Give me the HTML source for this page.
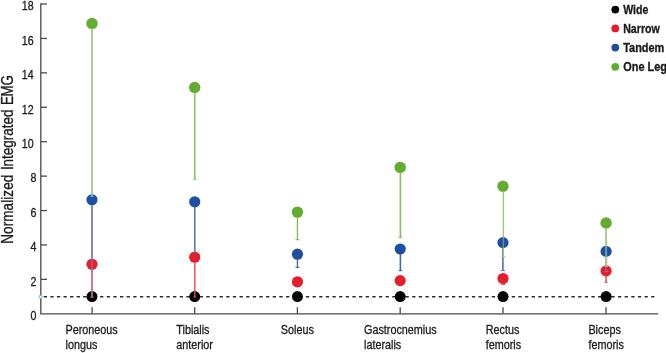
<!DOCTYPE html><html><head><meta charset="utf-8"><title>Normalized Integrated EMG</title>
<style>html,body{margin:0;padding:0;background:#fff;overflow:hidden}svg{display:block}text{font-family:"Liberation Sans",sans-serif;fill:#1a1a1a;stroke:#1a1a1a;stroke-width:0.3px}</style></head><body>
<svg width="666" height="353" viewBox="0 0 666 353">
<rect width="666" height="353" fill="#fff"/>
<g stroke="#4a4a4a" stroke-width="1.3" fill="none">
<path d="M40.8 3.35V313.8H658.1"/>
<path d="M40.8 279.38h6.2"/>
<path d="M40.8 244.96h6.2"/>
<path d="M40.8 210.54h6.2"/>
<path d="M40.8 176.12h6.2"/>
<path d="M40.8 141.70h6.2"/>
<path d="M40.8 107.28h6.2"/>
<path d="M40.8 72.86h6.2"/>
<path d="M40.8 38.44h6.2"/>
<path d="M40.8 4.02h6.2"/>
<path d="M92.1 313.8v-6.6"/>
<path d="M194.7 313.8v-6.6"/>
<path d="M297.4 313.8v-6.6"/>
<path d="M400.2 313.8v-6.6"/>
<path d="M503.0 313.8v-6.6"/>
<path d="M606.0 313.8v-6.6"/>
</g>
<text transform="translate(36.5 320.10) scale(0.82 1)" font-size="13" text-anchor="end">0</text>
<text transform="translate(36.5 285.68) scale(0.82 1)" font-size="13" text-anchor="end">2</text>
<text transform="translate(36.5 251.26) scale(0.82 1)" font-size="13" text-anchor="end">4</text>
<text transform="translate(36.5 216.84) scale(0.82 1)" font-size="13" text-anchor="end">6</text>
<text transform="translate(36.5 182.42) scale(0.82 1)" font-size="13" text-anchor="end">8</text>
<text transform="translate(33.6 148.00) scale(0.82 1)" font-size="13" text-anchor="end">10</text>
<text transform="translate(33.6 113.58) scale(0.82 1)" font-size="13" text-anchor="end">12</text>
<text transform="translate(33.6 79.16) scale(0.82 1)" font-size="13" text-anchor="end">14</text>
<text transform="translate(33.6 44.74) scale(0.82 1)" font-size="13" text-anchor="end">16</text>
<text transform="translate(33.6 10.32) scale(0.82 1)" font-size="13" text-anchor="end">18</text>
<text transform="translate(12.6 243.8) rotate(-90) scale(0.855 1)" font-size="15.8"><tspan x="0" letter-spacing="0.1">Normalized</tspan> <tspan x="86.20" letter-spacing="-0.03">Integrated</tspan> <tspan x="162.22" letter-spacing="-0.35">EMG</tspan></text>
<path d="M43.75 296.7H87" stroke="#2b2b2b" stroke-width="1.4" stroke-dasharray="3.3 3.275" fill="none"/>
<path d="M100.06 296.7H654.45" stroke="#2b2b2b" stroke-width="1.4" stroke-dasharray="3.3 3.34" fill="none"/>
<circle cx="40.6" cy="296.8" r="1.6" fill="#fff" stroke="#6b9bd6" stroke-width="0.8"/>
<circle cx="92.0" cy="296.6" r="5.5" fill="#000"/>
<circle cx="92.0" cy="264.3" r="5.6" fill="#e41f2d"/>
<path d="M92.00 269.30V291.20" stroke="#c98086" stroke-width="2.0" fill="none"/><path d="M92.00 291.20V297.60" stroke="#c98086" stroke-width="2.0" stroke-opacity="0.8" fill="none"/><path d="M90.00 297.20h4" stroke="#c98086" stroke-width="1" stroke-opacity="0.6" fill="none"/>
<circle cx="92.0" cy="199.8" r="5.6" fill="#1f4fa3"/>
<path d="M92.00 204.80V258.90" stroke="#7f8cb6" stroke-width="2.0" fill="none"/><path d="M92.00 258.90V269.70" stroke="#7f8cb6" stroke-width="2.0" stroke-opacity="0.45" fill="none"/><path d="M92.00 269.70V270.20" stroke="#7f8cb6" stroke-width="2.0" fill="none"/><path d="M90.00 269.80h4" stroke="#7f8cb6" stroke-width="1" fill="none"/>
<circle cx="92.0" cy="23.5" r="5.7" fill="#62ad2f"/>
<path d="M92.00 28.50V194.40" stroke="#aacb94" stroke-width="2.0" fill="none"/><path d="M92.00 194.40V196.80" stroke="#aacb94" stroke-width="2.0" stroke-opacity="0.6" fill="none"/><path d="M90.00 196.40h4" stroke="#aacb94" stroke-width="1" stroke-opacity="0.6" fill="none"/>
<circle cx="194.7" cy="296.6" r="5.5" fill="#000"/>
<circle cx="194.7" cy="257.2" r="5.6" fill="#e41f2d"/>
<path d="M194.80 262.20V291.20" stroke="#e75a62" stroke-width="1.6" fill="none"/><path d="M194.80 291.20V297.40" stroke="#e75a62" stroke-width="1.6" stroke-opacity="0.8" fill="none"/><path d="M192.80 297.00h4" stroke="#e75a62" stroke-width="1" stroke-opacity="0.6" fill="none"/>
<circle cx="194.7" cy="201.8" r="5.6" fill="#1f4fa3"/>
<path d="M194.80 206.80V251.80" stroke="#6078b6" stroke-width="1.6" fill="none"/><path d="M194.80 251.80V253.50" stroke="#6078b6" stroke-width="1.6" stroke-opacity="0.45" fill="none"/><path d="M192.80 253.10h4" stroke="#6078b6" stroke-width="1" stroke-opacity="0.6" fill="none"/>
<circle cx="194.7" cy="87.5" r="5.7" fill="#62ad2f"/>
<path d="M194.80 92.50V179.60" stroke="#8fc466" stroke-width="1.6" fill="none"/><path d="M192.80 179.20h4" stroke="#8fc466" stroke-width="1" fill="none"/>
<circle cx="297.45" cy="296.6" r="5.5" fill="#000"/>
<circle cx="297.45" cy="281.8" r="5.6" fill="#e41f2d"/>
<circle cx="297.45" cy="254.2" r="5.6" fill="#1f4fa3"/>
<path d="M297.45 259.20V267.80" stroke="#4866ad" stroke-width="1.4" fill="none"/><path d="M295.45 267.40h4" stroke="#4866ad" stroke-width="1" fill="none"/>
<circle cx="297.45" cy="212.1" r="5.7" fill="#62ad2f"/>
<path d="M297.45 217.10V240.10" stroke="#84bd5c" stroke-width="1.4" fill="none"/><path d="M295.45 239.70h4" stroke="#84bd5c" stroke-width="1" fill="none"/>
<circle cx="400.2" cy="296.6" r="5.5" fill="#000"/>
<circle cx="400.2" cy="280.6" r="5.6" fill="#e41f2d"/>
<circle cx="400.2" cy="249.0" r="5.6" fill="#1f4fa3"/>
<path d="M400.40 254.00V271.10" stroke="#4866ad" stroke-width="1.6" fill="none"/><path d="M398.40 270.70h4" stroke="#4866ad" stroke-width="1" fill="none"/>
<circle cx="400.2" cy="167.4" r="5.7" fill="#62ad2f"/>
<path d="M400.40 172.40V237.60" stroke="#86b866" stroke-width="1.6" fill="none"/><path d="M398.40 237.20h4" stroke="#86b866" stroke-width="1" fill="none"/>
<circle cx="503.0" cy="296.6" r="5.5" fill="#000"/>
<circle cx="503.0" cy="278.5" r="5.6" fill="#e41f2d"/>
<path d="M503.20 283.50V284.80" stroke="#e8404a" stroke-width="1.7" fill="none"/><path d="M501.20 284.40h4" stroke="#e8404a" stroke-width="1" fill="none"/>
<circle cx="503.0" cy="242.6" r="5.6" fill="#1f4fa3"/>
<path d="M502.90 247.60V271.00" stroke="#5f78b4" stroke-width="1.7" fill="none"/><path d="M500.90 270.60h4" stroke="#5f78b4" stroke-width="1" fill="none"/>
<circle cx="503.0" cy="186.2" r="5.7" fill="#62ad2f"/>
<path d="M503.40 191.20V237.20" stroke="#9bc97a" stroke-width="1.4" fill="none"/><path d="M503.40 237.20V248.00" stroke="#9bc97a" stroke-width="1.4" stroke-opacity="0.6" fill="none"/><path d="M503.40 248.00V257.30" stroke="#9bc97a" stroke-width="1.4" fill="none"/><path d="M501.40 256.90h4" stroke="#9bc97a" stroke-width="1" fill="none"/>
<circle cx="606.1" cy="296.6" r="5.5" fill="#000"/>
<circle cx="606.1" cy="270.9" r="5.6" fill="#e41f2d"/>
<path d="M606.10 275.90V282.70" stroke="#d9777d" stroke-width="2.0" fill="none"/><path d="M604.10 282.30h4" stroke="#d9777d" stroke-width="1" fill="none"/>
<circle cx="606.1" cy="251.4" r="5.6" fill="#1f4fa3"/>
<path d="M606.10 256.40V265.50" stroke="#7f8cb6" stroke-width="2.0" fill="none"/><path d="M606.10 265.50V271.80" stroke="#7f8cb6" stroke-width="2.0" stroke-opacity="0.45" fill="none"/><path d="M604.10 271.40h4" stroke="#7f8cb6" stroke-width="1" stroke-opacity="0.6" fill="none"/>
<circle cx="606.1" cy="223.0" r="5.7" fill="#62ad2f"/>
<path d="M606.10 228.00V246.00" stroke="#aacb94" stroke-width="2.0" fill="none"/><path d="M606.10 246.00V256.80" stroke="#aacb94" stroke-width="2.0" stroke-opacity="0.6" fill="none"/><path d="M606.10 256.80V265.50" stroke="#aacb94" stroke-width="2.0" fill="none"/><path d="M606.10 265.50V266.80" stroke="#aacb94" stroke-width="2.0" stroke-opacity="0.6" fill="none"/><path d="M604.10 266.40h4" stroke="#aacb94" stroke-width="1" stroke-opacity="0.6" fill="none"/>
<text transform="translate(65.5 333.9) scale(0.852 1)" font-size="12.7"><tspan x="0" y="0">Peroneous</tspan> <tspan x="0" y="15.6">longus</tspan></text>
<text transform="translate(176.3 333.9) scale(0.852 1)" font-size="12.7"><tspan x="0" y="0">Tibialis</tspan> <tspan x="0" y="15.6">anterior</tspan></text>
<text transform="translate(280.8 333.9) scale(0.852 1)" font-size="12.7"><tspan x="0" y="0">Soleus</tspan></text>
<text transform="translate(364.0 333.9) scale(0.852 1)" font-size="12.7"><tspan x="0" y="0">Gastrocnemius</tspan> <tspan x="0" y="15.6">lateralis</tspan></text>
<text transform="translate(485.7 333.9) scale(0.852 1)" font-size="12.7"><tspan x="0" y="0">Rectus</tspan> <tspan x="0" y="15.6">femoris</tspan></text>
<text transform="translate(588.4 333.9) scale(0.852 1)" font-size="12.7"><tspan x="0" y="0">Biceps</tspan> <tspan x="0" y="15.6">femoris</tspan></text>
<circle cx="615.3" cy="9.6" r="3.9" fill="#000"/>
<text transform="translate(623.2 13.8) scale(0.87 1)" font-size="12.2" font-weight="bold" fill="#111">Wide</text>
<circle cx="615.3" cy="28.4" r="3.9" fill="#e41f2d"/>
<text transform="translate(623.2 32.9) scale(0.87 1)" font-size="12.2" font-weight="bold" fill="#111">Narrow</text>
<circle cx="615.3" cy="47.6" r="3.9" fill="#1f4fa3"/>
<text transform="translate(623.2 51.9) scale(0.897 1)" font-size="12.2" font-weight="bold" fill="#111">Tandem</text>
<circle cx="615.3" cy="66.8" r="3.9" fill="#62ad2f"/>
<text transform="translate(623.2 71.1) scale(0.897 1)" font-size="12.2" font-weight="bold" fill="#111">One Leg</text>
</svg></body></html>
